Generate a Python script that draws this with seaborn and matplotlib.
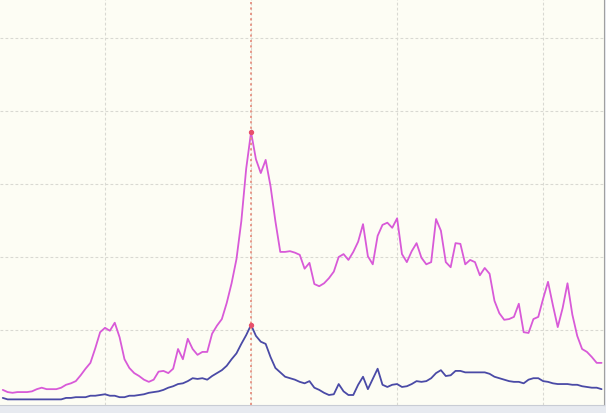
import matplotlib
matplotlib.use("Agg")
import matplotlib.pyplot as plt
import numpy as np
import pandas as pd
import seaborn as sns

# =====================
# Data
# =====================
days = list(range(9, 133))

pink_values = [
    18, 15, 14, 15, 15, 15, 16, 19, 21, 19, 19, 19, 21, 25, 27, 30, 38, 47, 55, 75,
    97, 103, 99, 110, 90, 60, 48, 41, 37, 32, 29, 32, 43, 44, 41, 47, 74, 60, 88, 74,
    66, 70, 70, 95, 106, 115, 137, 164, 197, 249, 321, 371, 334, 315, 333, 297, 249, 207, 207, 208,
    206, 203, 184, 192, 163, 160, 164, 171, 180, 200, 204, 196, 207, 221, 245, 201, 190, 229, 244, 247,
    240, 253, 204, 193, 208, 219, 199, 190, 193, 252, 236, 193, 186, 219, 218, 190, 196, 193, 175, 185,
    177, 140, 123, 114, 115, 118, 136, 97, 96, 115, 118, 143, 166, 134, 104, 130, 164, 121, 92, 74,
    70, 63, 55, 55,
]

blue_values = [
    7, 5, 5, 5, 5, 5, 5, 5, 5, 5, 5, 5, 5, 7, 7, 8, 8, 8, 10, 10,
    11, 12, 10, 10, 8, 8, 10, 10, 11, 12, 14, 15, 16, 18, 21, 23, 26, 27, 30, 34,
    33, 34, 32, 37, 41, 45, 51, 60, 68, 81, 93, 107, 92, 84, 81, 63, 48, 42, 36, 34,
    32, 29, 27, 30, 21, 18, 14, 11, 12, 26, 16, 11, 11, 25, 36, 19, 33, 47, 25, 22,
    25, 26, 22, 23, 26, 30, 29, 30, 34, 41, 45, 37, 38, 44, 44, 42, 42, 42, 42, 42,
    40, 36, 34, 32, 30, 29, 29, 27, 32, 34, 34, 30, 29, 27, 26, 26, 26, 25, 25, 23,
    22, 21, 21, 19,
]

marker_day = 60
x_ticks = [30, 60, 90, 120]
y_ticks = [100, 200, 300, 400, 500]

df = pd.DataFrame({"day": days, "pink": pink_values, "blue": blue_values})

# =====================
# Figure
# =====================
sns.set_style("white")
fig = plt.figure(figsize=(6.06, 4.14), dpi=100, facecolor="#e7eaf0")
ax = fig.add_axes([0, 8 / 414, 604 / 606, 406 / 414])
ax.set_facecolor("#fdfdf4")

sns.lineplot(data=df, x="day", y="pink", ax=ax, color="#d85ad8", linewidth=1.3)
sns.lineplot(data=df, x="day", y="blue", ax=ax, color="#4a4aa6", linewidth=1.3)

# dotted marker line and peak dots
ax.axvline(marker_day, color="#e69080", linestyle=(0, (1.2, 1.8)), linewidth=1.3)
peak = df[df["day"] == marker_day]
ax.scatter(peak["day"], peak["pink"], s=8, color="#e8506a", zorder=5)
ax.scatter(peak["day"], peak["blue"], s=8, color="#e8506a", zorder=5)

ax.set_xlim(8.43, 132.5)
ax.set_ylim(-2.7, 553.4)
ax.set_xticks(x_ticks)
ax.set_yticks(y_ticks)
ax.grid(True, color="#d9d9d2", linestyle=(0, (2.5, 2)), linewidth=0.8)
ax.set_xticklabels([])
ax.set_yticklabels([])
ax.set_xlabel("")
ax.set_ylabel("")
ax.tick_params(axis="x", direction="out", length=4, width=1.2, color="#333333")
ax.tick_params(axis="y", length=0)

for side in ["left", "top"]:
    ax.spines[side].set_visible(False)
ax.spines["right"].set_color("#a0a0a0")
ax.spines["bottom"].set_color("#c8ccd4")

fig.savefig("out.png", dpi=100, facecolor=fig.get_facecolor())
